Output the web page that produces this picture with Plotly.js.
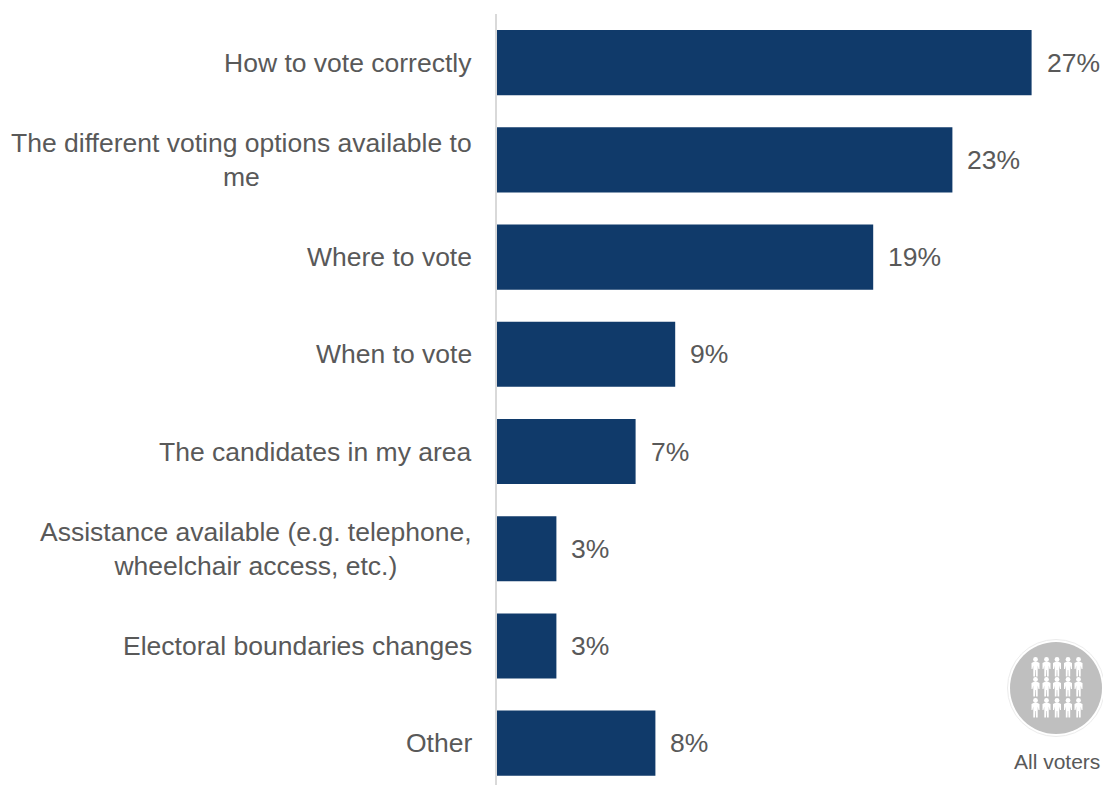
<!DOCTYPE html>
<html>
<head>
<meta charset="utf-8">
<script src="https://cdn.plot.ly/plotly-3.0.1.min.js"></script>
<style>html,body{margin:0;padding:0;background:#fff;overflow:hidden}</style>
</head>
<body>
<div id="chart"></div>
<script>
const categories = [
  "How to vote correctly",
  "The different voting options available to<br>me",
  "Where to vote",
  "When to vote",
  "The candidates in my area",
  "Assistance available (e.g. telephone,<br>wheelchair access, etc.)",
  "Electoral boundaries changes",
  "Other"
];
const shares = [27, 23, 19, 9, 7, 3, 3, 8];
const iconCaption = "All voters";

const W = 1103, H = 785;
const margin = {l: 497, r: 3, t: 14, b: 0};
const plotW = W - margin.l - margin.r;
const plotH = H - margin.t - margin.b;
const textColor = "#595959";
const fontFamily = "'Liberation Sans', Arial, sans-serif";

// Paper coordinates from page pixels, for the decorative badge.
const px = x => (x - margin.l) / plotW;
const py = y => 1 - (y - margin.t) / plotH;
const P = (x, y) => px(x).toFixed(5) + "," + py(y).toFixed(5);

// One small standing figure, centred on (cx, cy).
function person(cx, cy) {
  const pts = [
    [-2, -5], [2, -5], [4, -4], [4, 2], [3, 2], [2.2, -1.5], [2.2, 9.5],
    [0.5, 9.5], [0.3, 3], [-0.3, 3], [-0.5, 9.5], [-2.2, 9.5], [-2.2, -1.5],
    [-3, 2], [-4, 2], [-4, -4]
  ];
  return "M" + pts.map(p => P(cx + p[0], cy + p[1])).join("L") + "Z";
}

function paperCircle(cx, cy, r, fill, line) {
  return {
    type: "circle", xref: "paper", yref: "paper",
    x0: px(cx - r), x1: px(cx + r), y0: py(cy + r), y1: py(cy - r),
    fillcolor: fill, line: line
  };
}

const badgeShapes = [
  paperCircle(1056, 688, 48.5, "#ffffff", {color: "#ececec", width: 1}),
  paperCircle(1056, 688, 46, "#bfbfbf", {width: 0})
];
[1035.5, 1046.5, 1057, 1068, 1078.5].forEach(cx => {
  [667, 687, 708].forEach(cy => {
    badgeShapes.push(paperCircle(cx, cy - 7.5, 2.4, "#ffffff", {width: 0}));
    badgeShapes.push({
      type: "path", xref: "paper", yref: "paper",
      path: person(cx, cy), fillcolor: "#ffffff", line: {width: 0}
    });
  });
});

const trace = {
  type: "bar",
  orientation: "h",
  y: categories,
  x: shares,
  width: 0.67,
  marker: {color: "#103a6a", line: {width: 0}},
  hoverinfo: "skip",
  cliponaxis: false
};

const valueLabels = shares.map((v, i) => ({
  x: v, y: categories[i], xref: "x", yref: "y",
  text: v + "%", showarrow: false,
  xanchor: "left", yanchor: "middle", xshift: 13,
  font: {family: fontFamily, size: 26.5, color: textColor}
}));

// Category names sit left of the axis; wrapped names are centred on their widest line.
const categoryLabels = categories.map(name => ({
  x: 0, y: name, xref: "x", yref: "y",
  text: name, showarrow: false,
  xanchor: "right", yanchor: "middle", align: "center", xshift: -23,
  font: {family: fontFamily, size: 26.5, color: textColor}
}));

const captionLabel = {
  x: px(1057), y: py(761), xref: "paper", yref: "paper",
  text: iconCaption, showarrow: false,
  xanchor: "center", yanchor: "middle",
  font: {family: fontFamily, size: 21, color: textColor}
};

const layout = {
  width: W, height: H, autosize: false,
  margin: margin,
  paper_bgcolor: "#ffffff", plot_bgcolor: "#ffffff",
  showlegend: false,
  xaxis: {
    range: [0, plotW / 19.8],
    visible: false, fixedrange: true
  },
  yaxis: {
    type: "category",
    categoryorder: "array", categoryarray: categories,
    range: [7.43, -0.5],
    showline: true, linecolor: "#d9d9d9", linewidth: 2,
    showgrid: false, zeroline: false, ticks: "",
    showticklabels: false,
    fixedrange: true, automargin: false
  },
  annotations: categoryLabels.concat(valueLabels, [captionLabel]),
  shapes: badgeShapes
};

Plotly.newPlot("chart", [trace], layout, {displayModeBar: false, staticPlot: true});
</script>
</body>
</html>
